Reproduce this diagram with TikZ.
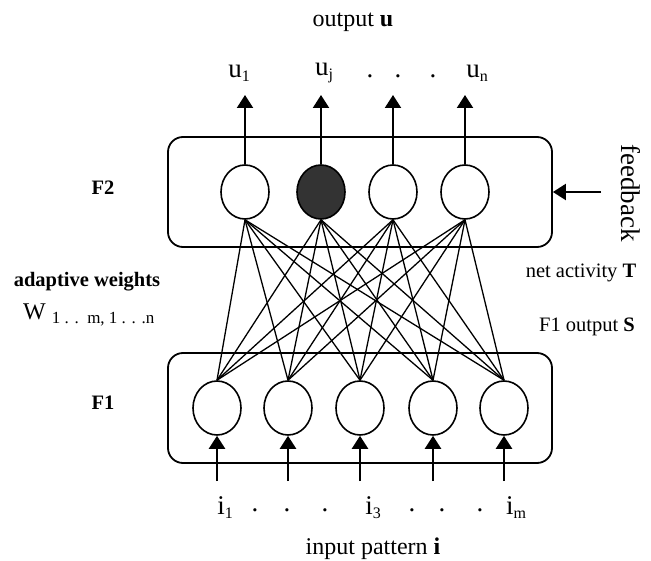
\documentclass[tikz,border=0pt]{standalone}
\usepackage{fontspec}
\setmainfont{Liberation Serif}
\usetikzlibrary{shapes.geometric,arrows.meta}
\newcommand{\mysub}[2][16]{{\fontsize{#1}{#1}\selectfont\raisebox{-4pt}{#2}}}
\begin{document}
\begin{tikzpicture}[x=1pt,y=-1pt,
  layerbox/.style={draw,line width=1.8pt,rounded corners=15pt,minimum width=384pt,minimum height=110pt,inner sep=0pt},
  neuron/.style={draw,ellipse,line width=1.6pt,minimum width=48pt,minimum height=54pt,inner sep=0pt,fill=white},
  active/.style={neuron,fill=black!80},
  wire/.style={line width=1.3pt},
  sig/.style={line width=2.2pt,-{Triangle[length=13pt,width=16pt]}},
  lbl/.style={inner sep=0pt,font=\fontsize{27}{28}\selectfont},
  side/.style={inner sep=0pt,font=\fontsize{20.5}{24}\selectfont},
  big/.style={inner sep=0pt,font=\fontsize{24}{28}\selectfont}]
\useasboundingbox (0,0) rectangle (651,561);
\node[layerbox] (F2box) at (360,192) {};
\node[layerbox] (F1box) at (360,408) {};
% F2 neurons
\node[neuron] (b1) at (245,192) {};
\node[active] (b2) at (321,192) {};
\node[neuron] (b3) at (393,192) {};
\node[neuron] (b4) at (465,192) {};
% F1 neurons
\node[neuron] (a1) at (217,408) {};
\node[neuron] (a2) at (288,408) {};
\node[neuron] (a3) at (360,408) {};
\node[neuron] (a4) at (433,408) {};
\node[neuron] (a5) at (504,408) {};
% weights
\foreach \i in {1,...,5}{\foreach \j in {1,...,4}{\draw[wire] (a\i.north) -- (b\j.south);}}
% outputs
\foreach \j/\x in {1/245,2/321,3/393,4/465}{
  \coordinate (o\j) at (\x,95);
  \draw[sig] (b\j.north) -- (o\j);}
% inputs
\foreach \i/\x in {1/217,2/288,3/360,4/433,5/504}{
  \coordinate (in\i) at (\x,481);
  \draw[sig] (in\i) -- (a\i.south);}
% feedback
\coordinate (fb) at (601,192);
\draw[sig] (fb) -- (F2box.east);
\node[lbl,rotate=-90] (fbl) at (631,193) {feedback};
% labels
\node[big] (outl) at (353,22) {output \textbf{u}};
\node[lbl] (u1) at (239,73) {u\mysub{1}};
\node[lbl] (uj) at (324,73) {u\mysub{j}};
\node[lbl] (d1) at (370,76) {.};
\node[lbl] (d2) at (398,76) {.};
\node[lbl] (d3) at (433,76) {.};
\node[lbl] (un) at (477,73) {u\mysub{n}};
\node[lbl] (i1) at (225,508) {i\mysub{1}};
\node[lbl] (i3) at (373,508) {i\mysub{3}};
\node[lbl] (im) at (516,508) {i\mysub{m}};
\foreach \x [count=\k] in {255,287,325,412,442,480}{\node[lbl] (e\k) at (\x,510) {.};}
\node[big] (inl) at (373,549) {input pattern \textbf{i}};
\node[side] (F2l) at (103,188) {\textbf{F2}};
\node[side] (F1l) at (103,403) {\textbf{F1}};
\node[side] (adw) at (87,282) {\textbf{adaptive weights}};
\node[inner sep=0pt,anchor=west] (W) at (23,315) {\fontsize{24}{28}\selectfont W \mysub[17]{1 . .\ \ m, 1 . . .n}};
\node[side] (net) at (581,273) {net activity \textbf{T}};
\node[side] (f1o) at (587,327) {F1 output \textbf{S}};
\end{tikzpicture}
\end{document}
